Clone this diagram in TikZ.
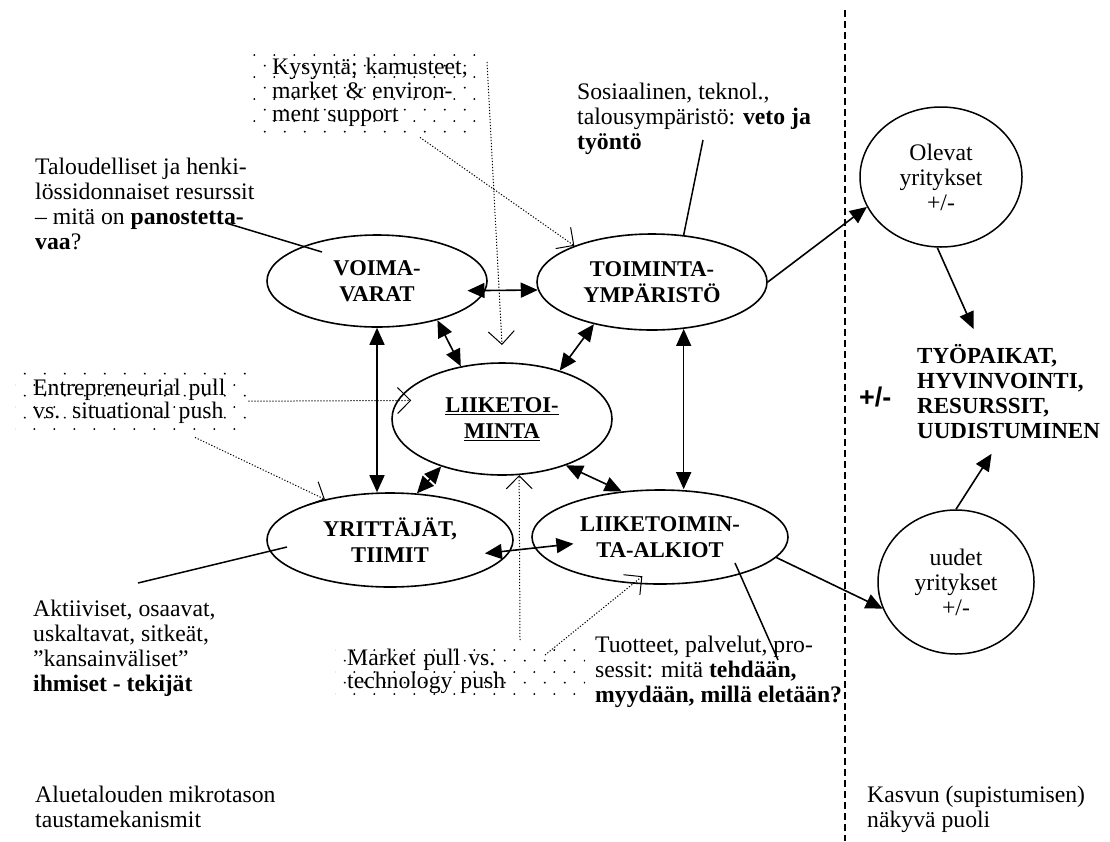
\documentclass[tikz,border=0pt]{standalone}
\usepackage{fontspec}
\setmainfont{Liberation Serif}
\newfontfamily\signfont{Liberation Sans}
\usetikzlibrary{arrows.meta, shapes.geometric, patterns.meta}

\tikzdeclarepattern{
  name = sparsedots,
  type = uncolored,
  bounding box = {(0pt,0pt) and (20pt,22pt)},
  tile size = {(20pt,22pt)},
  code = {
    \pgfpathcircle{\pgfpoint{5pt}{5.5pt}}{1.1pt}
    \pgfpathcircle{\pgfpoint{15pt}{16.5pt}}{1.1pt}
    \pgfusepath{fill}
  }
}

\begin{document}
\begin{tikzpicture} [x = 1pt, y = -1pt,
    blob/.style = {ellipse, draw, line width = 1.6pt, inner sep = 0pt, align = center,
        font = \fontsize{22.5}{26}\selectfont\bfseries},
    firm/.style = {ellipse, draw, line width = 1.5pt, inner sep = 0pt, align = center,
        font = \fontsize{23.7}{25}\selectfont},
    note/.style = {anchor = north west, inner sep = 0pt, align = left,
        font = \fontsize{23.7}{25}\selectfont},
    dotbox/.style = {anchor = north west, pattern = sparsedots, pattern color = black,
        inner ysep = 0pt, align = left, font = \fontsize{23.7}{23.5}\selectfont},
    twoway/.style = {{Triangle[length = 17pt, width = 15pt]}-{Triangle[length = 17pt, width = 15pt]},
        line width = 1.6pt},
    oneway/.style = {-{Triangle[length = 17pt, width = 15pt]}, line width = 1.6pt},
    hint/.style = {-{Straight Barb[length = 13pt, width = 26pt]}, line width = 1pt,
        dash pattern = on 1.2pt off 1.8pt},
    lead/.style = {line width = 1.5pt}]

    \useasboundingbox (0,0) rectangle (1110,841);

    % dotted boxes
    \node (kys) [dotbox, inner xsep = 20pt, text width = 190pt, minimum height = 89pt] at (252,48)
        {\mbox{Kysyntä; kamusteet,}\\\mbox{market \& environ-}\\\mbox{ment support}};
    \node (entre) [dotbox, inner xsep = 18pt, text width = 197pt, minimum height = 72pt] at (15,365)
        {\mbox{Entrepreneurial pull}\\\mbox{vs. situational push}};
    \node (market) [dotbox, inner xsep = 12pt, text width = 226pt, minimum height = 62pt] at (335,640)
        {\mbox{Market pull vs.}\\\mbox{technology push}};

    % the five fields
    \node (voima) [blob, minimum width = 220pt, minimum height = 92pt] at (377,281) {VOIMA-\\VARAT};
    \node (toim) [blob, minimum width = 230pt, minimum height = 96pt] at (652,282) {TOIMINTA-\\YMPÄRISTÖ};
    \node (liike) [blob, minimum width = 220pt, minimum height = 112pt] at (502,419)
        {\underline{LIIKETOI-}\\\underline{MINTA}};
    \node (yritt) [blob, minimum width = 246pt, minimum height = 94pt] at (390,540) {YRITTÄJÄT,\\TIIMIT};
    \node (alkiot) [blob, minimum width = 256pt, minimum height = 94pt] at (660,537) {LIIKETOIMIN-\\TA-ALKIOT};

    % visible side
    \node (olevat) [firm, minimum width = 162pt, minimum height = 140pt] at (941,177) {Olevat\\yritykset\\+/-};
    \node (uudet) [firm, minimum width = 156pt, minimum height = 144pt] at (956,582) {uudet\\yritykset\\+/-};
    \node (tyo) [note, font = \fontsize{23}{25}\selectfont\bfseries] at (917,344)
        {TYÖPAIKAT,\\HYVINVOINTI,\\RESURSSIT,\\UUDISTUMINEN};
    \node (pm) [anchor = west, inner sep = 0pt, font = \signfont\fontsize{27}{30}\selectfont\bfseries] at (859,397) {+/-};

    % notes
    \node (talous) [note] at (35,158) {Taloudelliset ja henki-\\lössidonnaiset resurssit\\– mitä on \textbf{panostetta-}\\\textbf{vaa}?};
    \node (sosi) [note] at (577,83) {Sosiaalinen, teknol.,\\talousympäristö: \textbf{veto ja}\\\textbf{työntö}};
    \node (aktiv) [note] at (33,600) {Aktiiviset, osaavat,\\uskaltavat, sitkeät,\\”kansainväliset”\\\textbf{ihmiset - tekijät}};
    \node (tuote) [note] at (595,636) {Tuotteet, palvelut, pro-\\sessit: mitä \textbf{tehdään,}\\\textbf{myydään, millä eletään?}};
    \node (alue) [note] at (35,786) {Aluetalouden mikrotason\\taustamekanismit};
    \node (kasvu) [note] at (867,786) {Kasvun (supistumisen)\\näkyvä puoli};

    \coordinate (divtop) at (845,10);
    \coordinate (divbot) at (845,841);
    \coordinate (talousend) at (226,223);
    \coordinate (voimain) at (322,252);
    \coordinate (sosiend) at (703,140);
    \coordinate (aktivend) at (138,583);
    \coordinate (yrittin) at (287,547);
    \coordinate (alkiotin) at (735,563);
    \coordinate (tuoteend) at (778,660);
    \coordinate (kysfoot) at (487,62);
    \coordinate (liiketop) at (502,345);

    \draw [dash pattern = on 7pt off 4pt, line width = 1.5pt] (divtop) -- (divbot);

    \path [twoway]
    (voima.-5) edge [shorten < = -18pt] (toim.184)
    (voima.south) edge (voima.south |- yritt.north)
    (voima.-33) edge (liike.128)
    (toim.216) edge (liike.40)
    (toim.-56) edge (toim.-56 |- alkiot.north)
    (liike.218) edge (yritt.60)
    (liike.-36) edge (alkiot.130)
    (yritt.-5) edge [shorten < = -26pt, shorten > = -39pt] (alkiot.185);

    \path [oneway]
    (toim.east) edge (olevat.202)
    (olevat.-93) edge ([xshift = -35pt, yshift = 15pt]tyo.north)
    (uudet.north) edge ([xshift = -17pt, yshift = -15pt]tyo.south)
    (alkiot.-10) edge (uudet.200);

    \path [hint]
    (kysfoot) edge (liiketop)
    ([xshift = 168pt]kys.south west) edge (toim.155)
    (entre.east) edge [shorten > = -14pt] (liike.170)
    ([xshift = 180pt]entre.south west) edge (yritt.148)
    ([xshift = 185pt]market.north west) edge (liike.-73)
    ([xshift = 210pt, yshift = -15pt]market.north west) edge [shorten > = -12pt] (alkiot.-120);

    \path [lead]
    (talousend) edge (voimain)
    (sosiend) edge (toim.56)
    (aktivend) edge (yrittin)
    (alkiotin) edge (tuoteend);
\end{tikzpicture}
\end{document}
